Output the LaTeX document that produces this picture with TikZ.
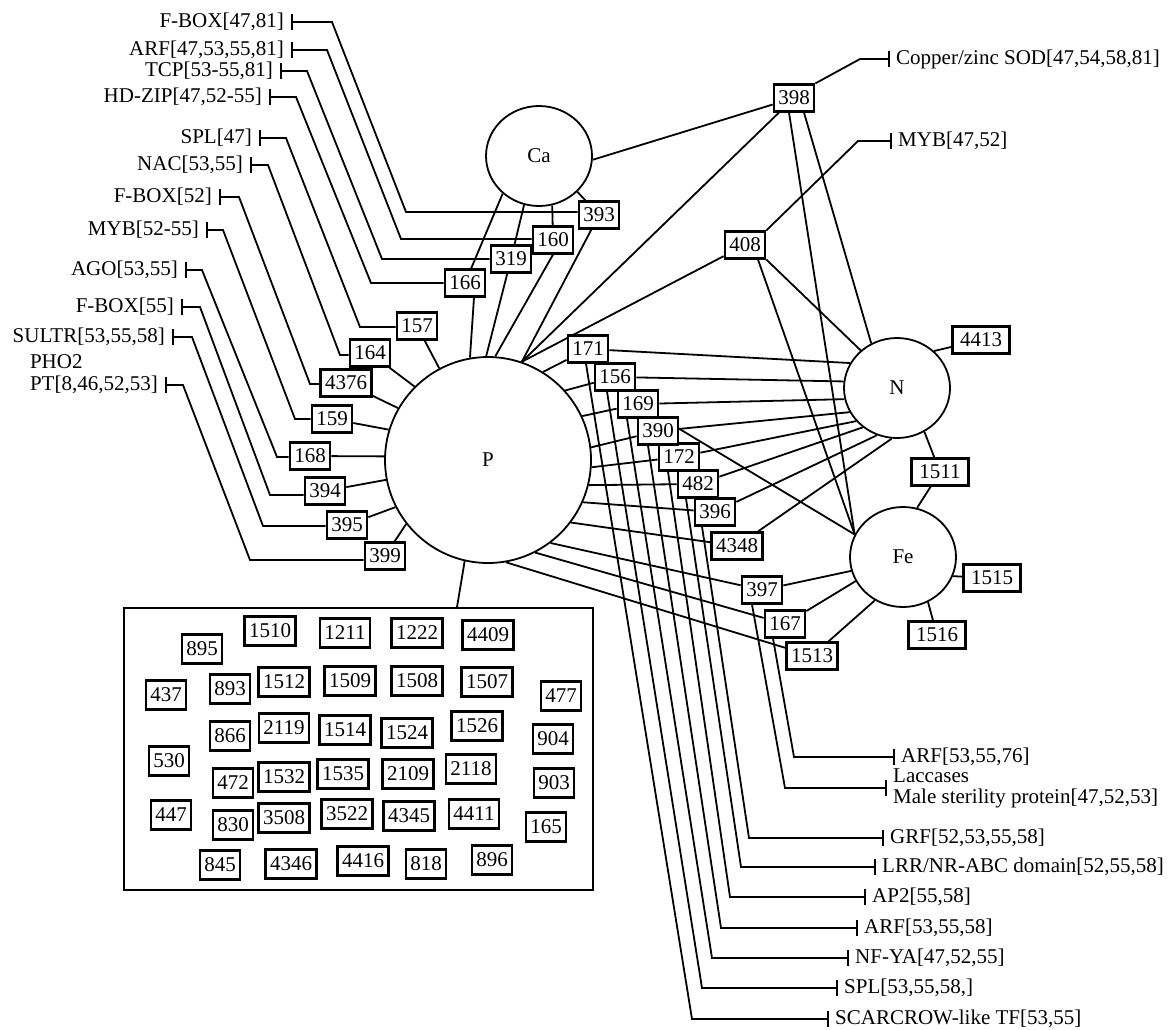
\documentclass[tikz,border=0pt]{standalone}
\usepackage{fontspec}
\setmainfont{Liberation Serif}
\usetikzlibrary{shapes.geometric,arrows.meta,backgrounds}
\begin{document}
\begin{tikzpicture}[x=1pt,y=-1pt,
  every node/.style={font=\fontsize{21pt}{22pt}\selectfont},
  num/.style={draw, line width=2.2pt, fill=white, inner xsep=4.5pt, inner ysep=0pt, minimum height=27pt},
  inum/.style={num, minimum height=29pt},
  wide/.style={minimum width=57pt},
  elem/.style={ellipse, draw, line width=1.8pt, fill=white, minimum width=106pt, minimum height=100pt, inner sep=0pt},
  bigelem/.style={circle, draw, line width=1.8pt, fill=white, minimum size=206pt, inner sep=0pt},
  conn/.style={line width=1.8pt},
  tag/.style={conn, -{Bar[width=16pt]}},
  lblL/.style={anchor=east, inner xsep=7pt, inner ysep=0pt},
  lblR/.style={anchor=west, inner xsep=6pt, inner ysep=0pt},
]
\useasboundingbox (0,0) rectangle (1172,1029);

% element circles
\node[bigelem] (P) at (488,460) {P};
\node[elem] (Ca) at (539,156) {Ca};
\node[elem] (N) at (897,388) {N};
\node[elem] (Fe) at (903,557) {Fe};

% boxes around Ca / P (left)
\node[num] (b393) at (599,215) {393};
\node[num] (b160) at (553,240) {160};
\node[num] (b319) at (511,259) {319};
\node[num] (b166) at (465,283) {166};
\node[num] (b157) at (417,326) {157};
\node[num] (b164) at (370,353) {164};
\node[num] (b4376) at (346,383) {4376};
\node[num] (b159) at (332,419) {159};
\node[num] (b168) at (310,456) {168};
\node[num] (b394) at (325,491) {394};
\node[num] (b395) at (347,525) {395};
\node[num] (b399) at (385,556) {399};

% boxes on the right
\node[num] (b398) at (794,98) {398};
\node[num] (b408) at (745,245) {408};
\node[num, wide] (b4413) at (981,340) {4413};
\node[num, wide] (b1511) at (940,472) {1511};
\node[num, wide] (b1515) at (992,578) {1515};
\node[num, wide] (b1516) at (937,635) {1516};
\node[num] (b1513) at (812,656) {1513};
\node[num] (b167) at (785,624) {167};
\node[num] (b397) at (762,590) {397};
\node[num] (b4348) at (737,546) {4348};
\node[num] (b396) at (715,512) {396};
\node[num] (b482) at (698,484) {482};
\node[num] (b172) at (679,457) {172};
\node[num] (b390) at (658,431) {390};
\node[num] (b169) at (638,404) {169};
\node[num] (b156) at (615,377) {156};
\node[num] (b171) at (588,349) {171};

% group rectangle
\node[draw, line width=2pt, minimum width=469pt, minimum height=282pt, inner sep=0pt] (grp) at (358.5,749) {};
\node[inum] (g895) at (202,649) {895};
\node[inum] (g1510) at (270,631) {1510};
\node[inum] (g1211) at (345,633) {1211};
\node[inum] (g1222) at (417,633) {1222};
\node[inum] (g4409) at (488,635) {4409};
\node[inum] (g437) at (166,695) {437};
\node[inum] (g893) at (230,689) {893};
\node[inum] (g1512) at (284,682) {1512};
\node[inum] (g1509) at (350,681) {1509};
\node[inum] (g1508) at (417,681) {1508};
\node[inum] (g1507) at (487,682) {1507};
\node[inum] (g477) at (561,696) {477};
\node[inum] (g866) at (230,736) {866};
\node[inum] (g2119) at (284,728) {2119};
\node[inum] (g1514) at (345,730) {1514};
\node[inum] (g1524) at (407,733) {1524};
\node[inum] (g1526) at (477,726) {1526};
\node[inum] (g904) at (553,739) {904};
\node[inum] (g530) at (169,761) {530};
\node[inum] (g472) at (233,783) {472};
\node[inum] (g1532) at (284,777) {1532};
\node[inum] (g1535) at (343,774) {1535};
\node[inum] (g2109) at (408,774) {2109};
\node[inum] (g2118) at (471,769) {2118};
\node[inum] (g903) at (554,783) {903};
\node[inum] (g447) at (171,815) {447};
\node[inum] (g830) at (233,825) {830};
\node[inum] (g3508) at (284,818) {3508};
\node[inum] (g3522) at (347,814) {3522};
\node[inum] (g4345) at (409,816) {4345};
\node[inum] (g4411) at (474,814) {4411};
\node[inum] (g165) at (546,827) {165};
\node[inum] (g845) at (220,865) {845};
\node[inum] (g4346) at (291,864) {4346};
\node[inum] (g4416) at (363,861) {4416};
\node[inum] (g818) at (426,864) {818};
\node[inum] (g896) at (492,860) {896};

% left labels
\node[lblL] (lFB1) at (291,22) {F-BOX[47,81]};
\node[lblL] (lARF1) at (291,50) {ARF[47,53,55,81]};
\node[lblL] (lTCP) at (280,71) {TCP[53-55,81]};
\node[lblL] (lHD) at (269,97) {HD-ZIP[47,52-55]};
\node[lblL] (lSPL1) at (259,138) {SPL[47]};
\node[lblL] (lNAC) at (250,165) {NAC[53,55]};
\node[lblL] (lFB2) at (219,197) {F-BOX[52]};
\node[lblL] (lMYB1) at (206,230) {MYB[52-55]};
\node[lblL] (lAGO) at (185,270) {AGO[53,55]};
\node[lblL] (lFB3) at (181,307) {F-BOX[55]};
\node[lblL] (lSUL) at (172,337) {SULTR[53,55,58]};
\node[lblL] (lPT) at (165,385) {PT[8,46,52,53]};
\node[anchor=base west, inner sep=0pt] (lPHO) at ([xshift=7pt,yshift=22pt]lPT.base west) {PHO2};

% right labels
\node[lblR] (lCu) at (890,59) {Copper/zinc SOD[47,54,58,81]};
\node[lblR] (lMYB2) at (892,141) {MYB[47,52]};
\node[lblR] (lARF3) at (895,757) {ARF[53,55,76]};
\node[lblR, align=left, font=\fontsize{21pt}{21pt}\selectfont] (lLac) at (887,788) {Laccases\\Male sterility protein[47,52,53]};
\node[lblR] (lGRF) at (884,838) {GRF[52,53,55,58]};
\node[lblR] (lLRR) at (876,867) {LRR/NR-ABC domain[52,55,58]};
\node[lblR] (lAP2) at (866,897) {AP2[55,58]};
\node[lblR] (lARF4) at (858,928) {ARF[53,55,58]};
\node[lblR] (lNFY) at (849,958) {NF-YA[47,52,55]};
\node[lblR] (lSPL2) at (838,988) {SPL[53,55,58,]};
\node[lblR] (lSCR) at (829,1019) {SCARCROW-like TF[53,55]};

% corners
\coordinate (a1) at (332,22);  \coordinate (a2) at (406,212);
\coordinate (b1) at (327,50);  \coordinate (b2) at (401,239);
\coordinate (c1) at (307,71);  \coordinate (c2) at (382,259);
\coordinate (d1) at (296,97);  \coordinate (d2) at (371,283);
\coordinate (e1) at (286,138); \coordinate (e2) at (360,327);
\coordinate (f1) at (268,165); \coordinate (f2) at (340,355);
\coordinate (g1) at (239,197); \coordinate (g2) at (310,384);
\coordinate (h1) at (223,230); \coordinate (h2) at (295,419);
\coordinate (i1) at (202,270); \coordinate (i2) at (277,457);
\coordinate (j1) at (200,307); \coordinate (j2) at (270,495);
\coordinate (k1) at (192,337); \coordinate (k2) at (263,526);
\coordinate (m1) at (183,385); \coordinate (m2) at (250,560);
\coordinate (cCu) at (860,59);
\coordinate (cMY) at (858,141);
\coordinate (cA3) at (794,757);
\coordinate (cLa) at (785,788);
\coordinate (cGR) at (749,838);
\coordinate (cLR) at (741,867);
\coordinate (cAP) at (730,897);
\coordinate (cA4) at (721,928);
\coordinate (cNF) at (712,958);
\coordinate (cSP) at (702,988);
\coordinate (cSC) at (692,1019);

\begin{scope}[on background layer]
% left label connectors
\draw[tag] (b393.west |- a2) -- (a2) -- (a1) -- (lFB1.east);
\draw[tag] (b160.west |- b2) -- (b2) -- (b1) -- (lARF1.east);
\draw[tag] (b319.west |- c2) -- (c2) -- (c1) -- (lTCP.east);
\draw[tag] (b166.west |- d2) -- (d2) -- (d1) -- (lHD.east);
\draw[tag] (b157.west |- e2) -- (e2) -- (e1) -- (lSPL1.east);
\draw[tag] (b164.west |- f2) -- (f2) -- (f1) -- (lNAC.east);
\draw[tag] (b4376.west |- g2) -- (g2) -- (g1) -- (lFB2.east);
\draw[tag] (b159.west |- h2) -- (h2) -- (h1) -- (lMYB1.east);
\draw[tag] (b168.west |- i2) -- (i2) -- (i1) -- (lAGO.east);
\draw[tag] (b394.west |- j2) -- (j2) -- (j1) -- (lFB3.east);
\draw[tag] (b395.west |- k2) -- (k2) -- (k1) -- (lSUL.east);
\draw[tag] (b399.west |- m2) -- (m2) -- (m1) -- (lPT.east);

% right label connectors
\draw[tag] (b398.north east) -- (cCu) -- (lCu.west);
\draw[tag] (b408.north east) -- (cMY) -- (lMYB2.west);
\draw[tag] ([xshift=-12pt]b167.south) -- (cA3) -- (lARF3.west);
\draw[tag] ([xshift=-10pt]b397.south) -- (cLa) -- (lLac.west);
\draw[tag] ([xshift=-13pt]b396.south) -- (cGR) -- (lGRF.west);
\draw[tag] ([xshift=-12pt]b482.south) -- (cLR) -- (lLRR.west);
\draw[tag] ([xshift=-11pt]b172.south) -- (cAP) -- (lAP2.west);
\draw[tag] ([xshift=-10pt]b390.south) -- (cA4) -- (lARF4.west);
\draw[tag] ([xshift=-11pt]b169.south) -- (cNF) -- (lNFY.west);
\draw[tag] ([xshift=-8pt]b156.south) -- (cSP) -- (lSPL2.west);
\draw[tag] ([xshift=-2pt]b171.south) -- (cSC) -- (lSCR.west);

% Ca connections
\draw[conn] (Ca.-43) -- (b393);
\draw[conn] (b393) -- (P.71);
\draw[conn] (Ca.-75) -- (b160);
\draw[conn] (b160.south) -- (P.86);
\draw[conn] (Ca.-107) -- (b319);
\draw[conn] (b319) -- (P.91);
\draw[conn] (Ca.-134) -- (b166);
\draw[conn] ([xshift=9pt]b166.south) -- (P.100);
\draw[conn] (Ca.-4) -- (b398);

% 398 / 408
\draw[conn] (b398) -- (P.71);
\draw[conn] (b408) -- (P.71);
\draw[conn] ([xshift=10pt]b398.south) -- (N.120);
\draw[conn] ([xshift=-5pt]b398.south) -- (Fe.155);
\draw[conn] (b408.south east) -- (N.134);
\draw[conn] ([xshift=13pt]b408.south) -- (Fe.155);

% P left boxes
\draw[conn] (b157) -- (P.118);
\draw[conn] (b164) -- (P.135);
\draw[conn] (b4376) -- (P.150);
\draw[conn] (b159) -- (P.163);
\draw[conn] (b168) -- (P.178);
\draw[conn] (b394) -- (P.191);
\draw[conn] (b395) -- (P.207);
\draw[conn] (b399) -- (P.218);

% P right boxes
\draw[conn] (P.58) -- (b171);
\draw[conn] (P.42) -- (b156);
\draw[conn] (P.25) -- (b169);
\draw[conn] (P.7) -- (b390);
\draw[conn] (P.-4) -- (b172);
\draw[conn] (P.-14) -- (b482);
\draw[conn] (P.-24) -- (b396);
\draw[conn] (P.-37) -- (b4348);
\draw[conn] (P.-53) -- (b397);
\draw[conn] (P.-63) -- (b167);
\draw[conn] (P.-80) -- (b1513);
\draw[conn] (P.257) -- ([xshift=98.5pt]grp.north);

% N connections
\draw[conn] (b171) -- (N.152);
\draw[conn] (b156) -- (N.173);
\draw[conn] (b169) -- (N.192);
\draw[conn] (b390) -- (N.207);
\draw[conn] (b172) -- (N.219);
\draw[conn] (b482) -- (N.229);
\draw[conn] (b396) -- (N.247);
\draw[conn] (b4348) -- (N.264);
\draw[conn] (N.45) -- (b4413);
\draw[conn] (N.302) -- (b1511);
\draw[conn] (b1511) -- (Fe.74);

% Fe connections
\draw[conn] (b169) -- (Fe.155);
\draw[conn] (b397) -- (Fe.195);
\draw[conn] (b167) -- (Fe.207);
\draw[conn] (b1513) -- (Fe.237);
\draw[conn] (Fe.339) -- (b1515);
\draw[conn] (Fe.299) -- (b1516);
\end{scope}
\end{tikzpicture}
\end{document}
